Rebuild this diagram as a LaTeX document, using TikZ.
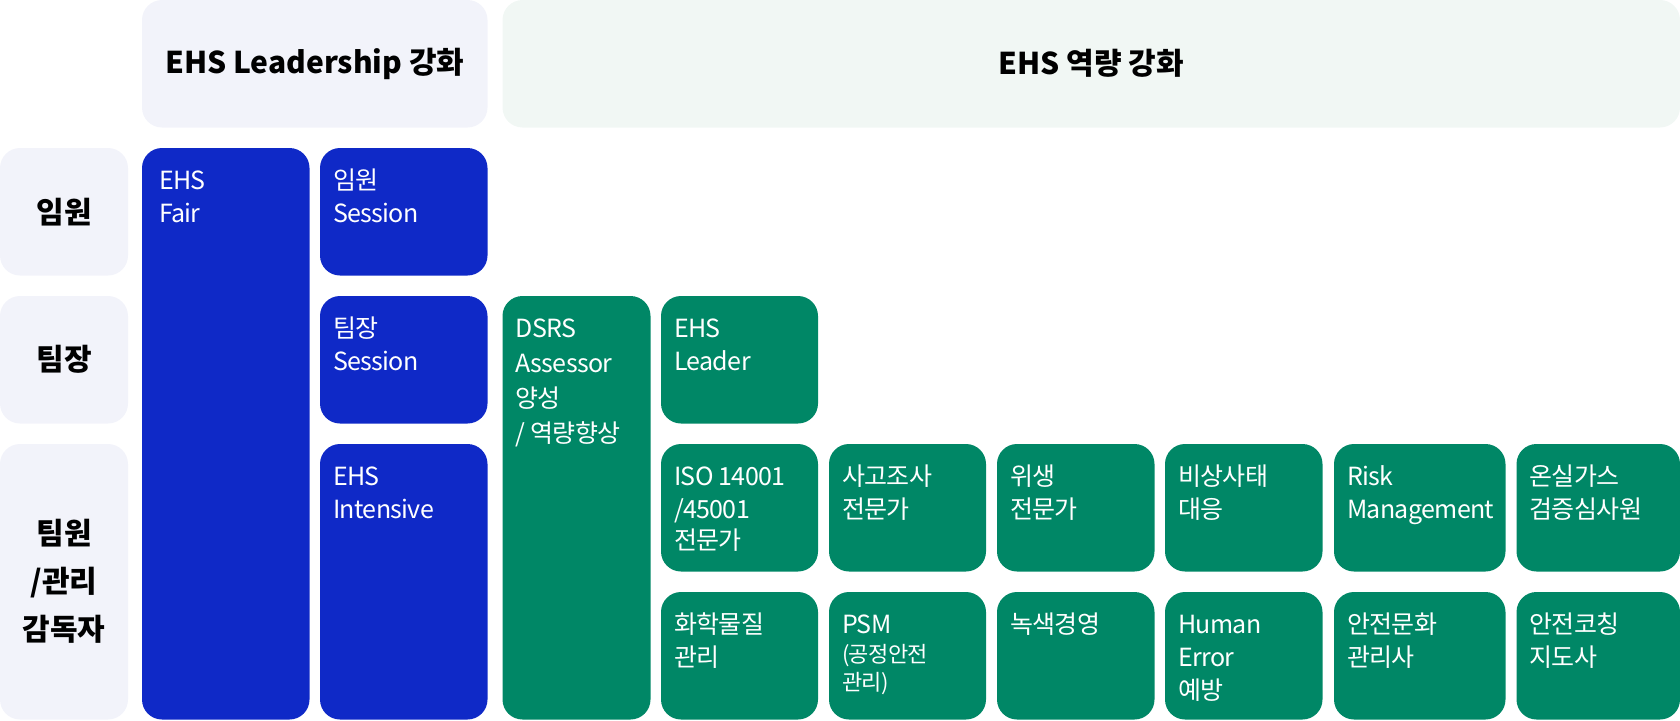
\documentclass[tikz,border=0pt]{standalone}
\usepackage{fontspec}
\setmainfont{Noto Sans CJK KR}
\definecolor{lav}{HTML}{F2F3FA}
\definecolor{mint}{HTML}{F1F7F4}
\definecolor{eblue}{HTML}{0F29C7}
\definecolor{egreen}{HTML}{008766}
\newcommand\mybox[6]{\node[#6, minimum width={#4pt-#2pt}, minimum height={#5pt-#3pt}] (#1) at (#2,#3) {};}
\newcommand\boxtext[3]{\node[txt] (#1-t) at ([shift={(#2,16)}]#1.north west) {\rule{0pt}{25pt}#3};}
\begin{document}
\begin{tikzpicture}[x=1pt,y=-1pt,
  box/.style={rounded corners=20pt, inner sep=0pt, outer sep=0pt, anchor=north west, draw=none},
  lavbox/.style={box, fill=lav},
  mintbox/.style={box, fill=mint},
  bluebox/.style={box, fill=eblue},
  greenbox/.style={box, fill=egreen},
  txt/.style={anchor=north west, inner sep=0pt, outer sep=0pt, align=left, text=white, font=\fontsize{25}{33}\selectfont\addfontfeature{LetterSpace=-2.5}},
  head/.style={inner sep=0pt, align=center, text=black, font=\fontsize{30}{48}\selectfont\bfseries}
]
\useasboundingbox (0,0) rectangle (1680,720);
% headers
\mybox{h1}{142}{0}{487.5}{127.5}{lavbox}
\mybox{h2}{502.5}{0}{1680}{127.5}{mintbox}
\node[head] (h1t) at (h1.center) {EHS Leadership 강화};
\node[head] (h2t) at (h2.center) {EHS 역량 강화};
% row labels
\mybox{l1}{0}{148}{128}{275.5}{lavbox}
\mybox{l2}{0}{296}{128}{423.5}{lavbox}
\mybox{l3}{0}{444}{128}{719.5}{lavbox}
\node[head] (l1t) at (l1.center) {임원};
\node[head] (l2t) at (l2.center) {팀장};
\node[head] (l3t) at (l3.center) {팀원\\/관리\\감독자};
% leadership
\mybox{fair}{142}{148}{309.5}{719.5}{bluebox}
\mybox{s1}{320}{148}{487.5}{275.5}{bluebox}
\mybox{s2}{320}{296}{487.5}{423.5}{bluebox}
\mybox{s3}{320}{444}{487.5}{719.5}{bluebox}
\boxtext{fair}{17}{EHS\\Fair}
\boxtext{s1}{13}{임원\\Session}
\boxtext{s2}{13}{팀장\\Session}
\boxtext{s3}{13}{EHS\\Intensive}
% competency
\mybox{dsrs}{502.5}{296}{650.5}{719.5}{greenbox}
\mybox{leader}{661}{296}{818}{423.5}{greenbox}
\boxtext{dsrs}{13}{DSRS\\[2pt]Assessor\\[2pt]양성\\[2pt]/ 역량향상}
\boxtext{leader}{13}{EHS\\Leader}
% row 3
\mybox{a1}{661}{444}{818}{571.5}{greenbox}
\mybox{a2}{829}{444}{986}{571.5}{greenbox}
\mybox{a3}{997}{444}{1154.5}{571.5}{greenbox}
\mybox{a4}{1165}{444}{1322.5}{571.5}{greenbox}
\mybox{a5}{1334}{444}{1505.5}{571.5}{greenbox}
\mybox{a6}{1516.5}{444}{1680}{571.5}{greenbox}
\boxtext{a1}{13}{ISO 14001\\/45001\\[-2pt]전문가}
\boxtext{a2}{13}{사고조사\\전문가}
\boxtext{a3}{13}{위생\\전문가}
\boxtext{a4}{13}{비상사태\\대응}
\boxtext{a5}{13}{Risk\\Management}
\boxtext{a6}{13}{온실가스\\검증심사원}
% row 4
\mybox{b1}{661}{592}{818}{719.5}{greenbox}
\mybox{b2}{829}{592}{986}{719.5}{greenbox}
\mybox{b3}{997}{592}{1154.5}{719.5}{greenbox}
\mybox{b4}{1165}{592}{1322.5}{719.5}{greenbox}
\mybox{b5}{1334}{592}{1505.5}{719.5}{greenbox}
\mybox{b6}{1516.5}{592}{1680}{719.5}{greenbox}
\boxtext{b1}{13}{화학물질\\관리}
\boxtext{b2}{13}{PSM\\[-4pt]{\fontsize{22}{28}\selectfont(공정안전}\\[-5pt]{\fontsize{22}{28}\selectfont 관리)}}
\boxtext{b3}{13}{녹색경영}
\boxtext{b4}{13}{Human\\Error\\예방}
\boxtext{b5}{13}{안전문화\\관리사}
\boxtext{b6}{13}{안전코칭\\지도사}
\end{tikzpicture}
\end{document}
